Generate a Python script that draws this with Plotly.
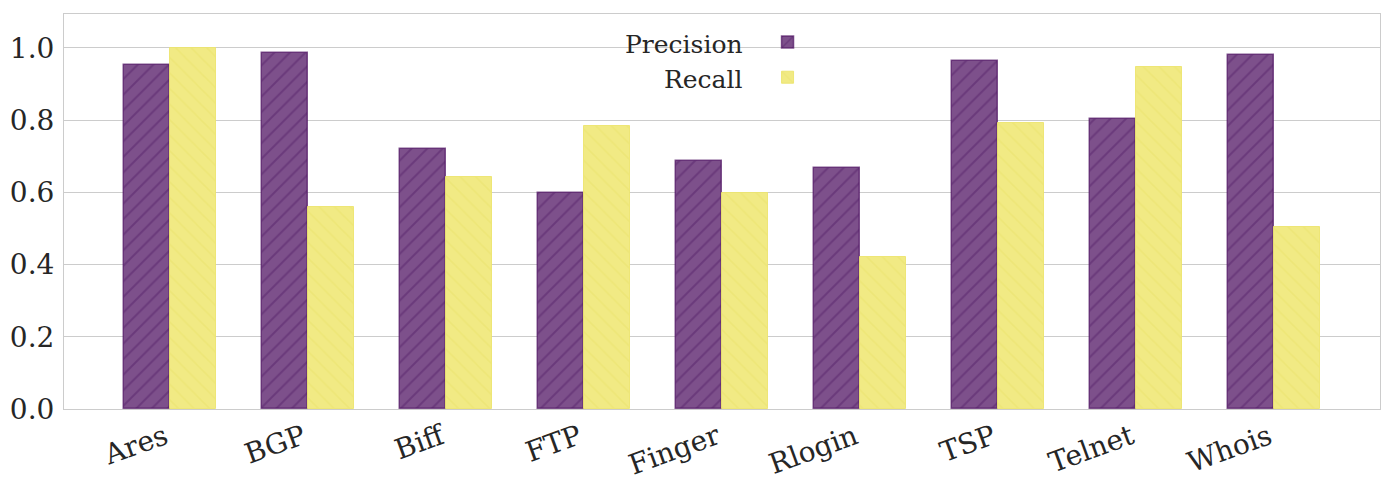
import plotly.graph_objects as go

protocols = ["Ares", "BGP", "Biff", "FTP", "Finger", "Rlogin", "TSP", "Telnet", "Whois"]
precision = [0.953, 0.986, 0.720, 0.598, 0.687, 0.668, 0.964, 0.803, 0.981]
recall = [1.0, 0.560, 0.643, 0.784, 0.598, 0.421, 0.792, 0.947, 0.504]
y_ticks = [0.0, 0.2, 0.4, 0.6, 0.8, 1.0]

FONT = "DejaVu Serif"
bar_w = 1 / 3

fig = go.Figure()
fig.add_trace(go.Bar(
    x=protocols, y=precision, name=" ", width=bar_w, offset=-bar_w,
    marker=dict(color="rgb(125,80,139)",
                line=dict(color="rgba(80,20,100,0.7)", width=1.5),
                pattern=dict(shape="/", fgcolor="rgb(88,35,108)", size=11, solidity=0.18)),
    legendgroup="p",
))
fig.add_trace(go.Bar(
    x=protocols, y=recall, name=" ", width=bar_w, offset=0,
    marker=dict(color="rgb(241,234,132)",
                line=dict(color="rgba(236,228,110,0.9)", width=1),
                pattern=dict(shape="\\", fgcolor="rgb(234,226,108)", size=11, solidity=0.15)),
    legendgroup="r",
))

# page body has an 8px margin, so the figure is shifted by 8px
fig.update_layout(
    width=1385, height=482,
    margin=dict(l=56, r=13, t=6, b=81),
    plot_bgcolor="white", paper_bgcolor="white",
    font=dict(family=FONT, size=28, color="#262626"),
    bargap=0, barmode="overlay",
    xaxis=dict(range=[-0.768, 8.768], tickangle=-20, showgrid=False, automargin=False,
               showline=True, linecolor="#cccccc", linewidth=1, mirror=True,
               ticks="", tickfont=dict(size=28), ticklabelshift=-5),
    yaxis=dict(range=[0, 1.094], tickvals=y_ticks, tickformat=".1f", automargin=False,
               showgrid=True, gridcolor="#cccccc", gridwidth=1, zeroline=False,
               showline=True, linecolor="#cccccc", linewidth=1, mirror=True,
               ticks="", tickfont=dict(size=28), ticklabelstandoff=3),
    legend=dict(x=0.5346, y=0.985, xanchor="left", yanchor="top",
                bgcolor="rgba(0,0,0,0)", font=dict(size=24),
                traceorder="grouped", tracegroupgap=1, itemwidth=30),
    annotations=[
        dict(text="Precision", x=0.5175, y=0.922, xref="paper", yref="paper",
             xanchor="right", yanchor="middle", showarrow=False, font=dict(size=25)),
        dict(text="Recall", x=0.5175, y=0.833, xref="paper", yref="paper",
             xanchor="right", yanchor="middle", showarrow=False, font=dict(size=25)),
    ],
)

fig.write_html("out.html")
